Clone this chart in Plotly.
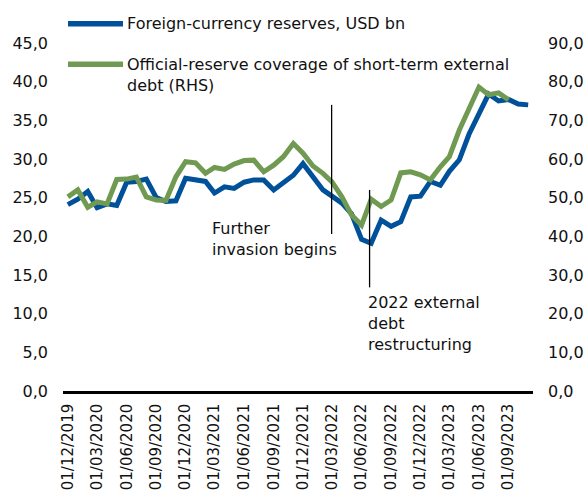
import pandas as pd
import plotly.graph_objects as go

# Monthly observations, Dec 2019 - Nov 2023
months = pd.date_range("2019-12-01", periods=48, freq="MS")

# Foreign-currency reserves, USD bn (left axis)
fx_reserves = [
    24.1, 24.8, 25.8, 23.7, 24.2, 24.0, 27.0, 27.1, 27.4, 25.0, 24.5, 24.6,
    27.5, 27.3, 27.1, 25.6, 26.4, 26.2, 27.0, 27.3, 27.3, 26.0, 26.9, 27.9,
    29.4, 27.7, 26.0, 25.2, 24.3, 22.9, 19.6, 19.1, 22.1, 21.3, 21.9, 25.1,
    25.2, 27.1, 26.6, 28.4, 29.9, 33.2, 35.9, 38.4, 37.5, 37.7, 37.1, 37.0,
]

# Official-reserve coverage of short-term external debt, % (right axis)
coverage = [
    50.2, 52.0, 47.5, 48.9, 48.4, 54.7, 54.8, 55.3, 50.2, 49.4, 49.3, 55.4,
    59.3, 59.0, 56.3, 57.8, 57.3, 58.7, 59.6, 59.7, 56.7, 58.4, 60.6, 64.0,
    61.5, 58.2, 56.3, 54.1, 50.2, 45.5, 42.9, 49.6, 47.7, 49.4, 56.4, 56.7,
    55.9, 54.6, 58.0, 60.6, 67.5, 73.1, 78.6, 76.6, 77.1, 75.3,
]

series_names = [
    "Foreign-currency reserves, USD bn",
    "Official-reserve coverage of short-term external<br>debt (RHS)",
]

# Event markers: (date, label, line bottom, line top, label x, label y)
events = [
    ("2022-02-28", "Further<br>invasion begins", 20.3, 37.0, "2021-02-15", 19.7),
    ("2022-06-26", "2022 external<br>debt<br>restructuring", 13.4, 26.0, "2022-06-16", 8.7),
]

BLUE = "#00509a"
GREEN = "#709a52"
FONT = "DejaVu Sans"
FS = 16

fig = go.Figure()
fig.add_trace(go.Scatter(
    x=months, y=fx_reserves, mode="lines", name=series_names[0],
    line=dict(color=BLUE, width=5), yaxis="y", showlegend=False,
))
fig.add_trace(go.Scatter(
    x=months[:len(coverage)], y=coverage, mode="lines", name=series_names[1],
    line=dict(color=GREEN, width=5), yaxis="y2", showlegend=False,
))

shapes = []
annotations = []
for date, label, y0, y1, lx, ly in events:
    shapes.append(dict(type="line", xref="x", yref="y", x0=date, x1=date,
                       y0=y0, y1=y1, line=dict(color="black", width=1.3)))
    annotations.append(dict(x=lx, y=ly, xref="x", yref="y", text=label,
                            showarrow=False, xanchor="left", yanchor="middle",
                            align="left", font=dict(family=FONT, size=FS, color="#111")))

# Legend drawn as line samples with labels above the plot area
W, H = 588, 495
L, R, T, B = 63, 55, 43, 104
pw, ph = W - L - R, H - T - B


def px(x):
    return (x - L) / pw


def py(y):
    return (H - B - y) / ph


for color, ycen in [(BLUE, 23.7), (GREEN, 64.3)]:
    shapes.append(dict(type="line", xref="paper", yref="paper",
                       x0=px(68), x1=px(123), y0=py(ycen), y1=py(ycen),
                       line=dict(color=color, width=5.5)))
annotations.append(dict(x=px(125), y=py(23.7), xref="paper", yref="paper",
                        text=series_names[0], showarrow=False, xanchor="left",
                        yanchor="middle", align="left",
                        font=dict(family=FONT, size=FS, color="#111")))
annotations.append(dict(x=px(125), y=py(75.2), xref="paper", yref="paper",
                        text=series_names[1], showarrow=False, xanchor="left",
                        yanchor="middle", align="left",
                        font=dict(family=FONT, size=FS, color="#111")))

fig.update_layout(
    width=W, height=H,
    margin=dict(l=L, r=R, t=T, b=B, autoexpand=False),
    paper_bgcolor="white", plot_bgcolor="white",
    separators=", ",
    font=dict(family=FONT, size=FS, color="#111"),
    showlegend=False,
    xaxis=dict(
        type="date", range=["2019-11-16", "2023-11-16"],
        tick0="2019-12-01", dtick="M3", tickformat="%d/%m/%Y",
        tickangle=-90, showgrid=False, zeroline=False,
        showline=True, linecolor="black", linewidth=2.5,
        ticks="", ticklabelstandoff=4, automargin=False,
        tickfont=dict(family=FONT, size=15, color="#111"),
    ),
    yaxis=dict(
        range=[0, 45], dtick=5, tickformat=".1f",
        showgrid=False, zeroline=False, showline=False,
        ticks="", ticklabelstandoff=14, automargin=False,
    ),
    yaxis2=dict(
        range=[0, 90], dtick=10, tickformat=".1f",
        overlaying="y", side="right",
        showgrid=False, zeroline=False, showline=False,
        ticks="", ticklabelstandoff=14, automargin=False,
    ),
    shapes=shapes,
    annotations=annotations,
)

fig.write_html("out.html")
